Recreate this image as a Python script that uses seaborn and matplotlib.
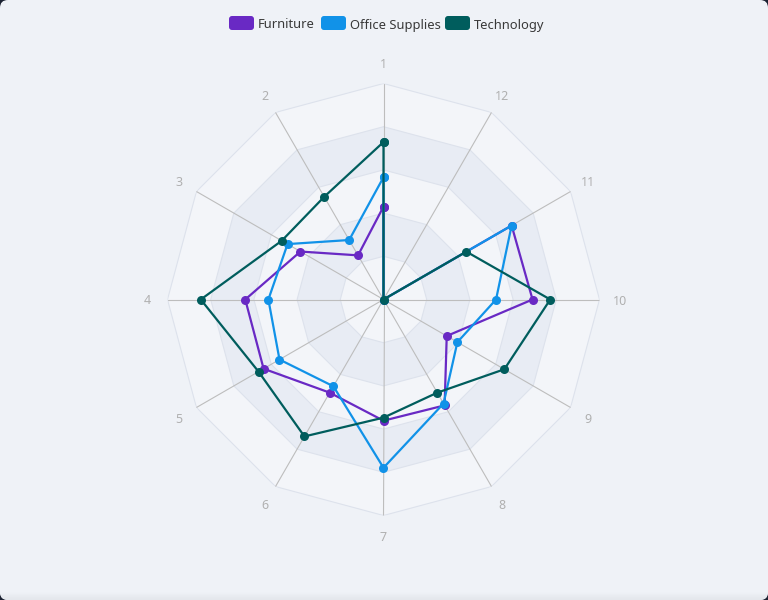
import numpy as np
import pandas as pd
import matplotlib
matplotlib.use("Agg")
import matplotlib.pyplot as plt
import matplotlib.transforms as mtransforms
from matplotlib.patches import FancyBboxPatch, Rectangle
import seaborn as sns

# ---------------- data ----------------
categories = ["1", "2", "3", "4", "5", "6", "7", "8", "9", "10", "11", "12"]
furniture = [43.0, 23.6, 44.4, 64.0, 64.1, 49.8, 56.1, 56.6, 33.8, 69.0, 68.5, 0.0]
office_supplies = [56.6, 31.8, 51.3, 53.3, 55.6, 46.4, 77.9, 55.6, 39.5, 52.1, 68.5, 0.0]
technology = [72.9, 54.9, 54.4, 84.6, 66.8, 73.2, 54.7, 49.8, 64.6, 77.2, 44.3, 0.0]
series_names = ["Furniture", "Office Supplies", "Technology"]
series_colors = ["#6929c4", "#1192e8", "#005d5d"]
r_max = 100
ring_levels = [20, 40, 60, 80, 100]

# ---------------- style ----------------
sns.set_theme(style="white")
plt.rcParams['font.family'] = ['Noto Sans', 'DejaVu Sans']

W, H = 768, 600
fig = plt.figure(figsize=(W / 100, H / 100), dpi=100)
fig.patch.set_facecolor('#1c2333')
ident = mtransforms.IdentityTransform()
bg = FancyBboxPatch((0, 0), W, H, boxstyle="round,pad=0,rounding_size=8",
                    transform=ident, facecolor='#eff2f7', edgecolor='none', zorder=0)
fig.add_artist(bg)
# subtle bottom shadow
shade = ['#eef1f6', '#edf0f5', '#ebeef3', '#e9ecf1', '#e8ebf0', '#e6e9ee', '#e5e8ed', '#e4e7ec']
for i, c in enumerate(shade):
    r = Rectangle((0, len(shade) - 1 - i), W, 1, transform=ident, facecolor=c,
                  edgecolor='none', zorder=0.5)
    fig.add_artist(r)
    r.set_clip_path(bg)

# ---------------- polar axes ----------------
R = 216
cx, cy = 383.5, 299.5
ax = fig.add_axes([(cx - R) / W, (H - cy - R) / H, 2 * R / W, 2 * R / H], projection='polar')
ax.set_theta_offset(np.pi / 2)
ax.set_theta_direction(1)
ax.set_facecolor('none')
ax.grid(False)
ax.spines['polar'].set_visible(False)

n = len(categories)
thetas = np.arange(n) * 2 * np.pi / n
thetas_closed = np.append(thetas, 2 * np.pi)

light, dark = '#f3f5f9', '#e8ecf4'
for i in range(len(ring_levels) - 1, -1, -1):
    lev = ring_levels[i]
    ax.fill(thetas_closed, [lev] * (n + 1), color=light if i % 2 == 0 else dark,
            zorder=1, linewidth=0)
for lev in ring_levels:
    ax.plot(thetas_closed, [lev] * (n + 1), color='#dde2ec', linewidth=0.8, zorder=1.2)
for t in thetas:
    ax.plot([t, t], [0, r_max], color='#bdbdbd', linewidth=0.8, zorder=1.4)

rows = []
for name, vals in zip(series_names, [furniture, office_supplies, technology]):
    for t, v in zip(thetas_closed, list(vals) + [vals[0]]):
        rows.append({"series": name, "theta": t, "value": v})
df = pd.DataFrame(rows)

sns.lineplot(data=df, x="theta", y="value", hue="series", hue_order=series_names,
             palette=series_colors, sort=False, estimator=None, marker='o',
             markersize=6.5, markeredgewidth=0, linewidth=1.6, legend=False, ax=ax)

ax.set_ylim(0, r_max)
ax.set_xticks([])
ax.set_yticks([])
ax.set_xlabel('')
ax.set_ylabel('')

label_tr = mtransforms.offset_copy(ax.transData, fig=fig, x=0, y=-1.5, units='dots')
for t, lab in zip(thetas, categories):
    ax.text(t, r_max * 1.095, lab, ha='center', va='center', color='#b0b0b0',
            fontsize=9, clip_on=False, transform=label_tr)

# ---------------- legend ----------------
icon_x = [229, 321, 445]
for x0, name, col in zip(icon_x, series_names, series_colors):
    p = FancyBboxPatch((x0, H - 30), 25, 14, boxstyle="round,pad=0,rounding_size=3",
                       transform=ident, facecolor=col, edgecolor='none')
    fig.add_artist(p)
    fig.text((x0 + 29) / W, (H - 25) / H, name, ha='left', va='center',
             fontsize=9.3, color='#393939')

fig.savefig("out.png", dpi=100, facecolor=fig.get_facecolor())
